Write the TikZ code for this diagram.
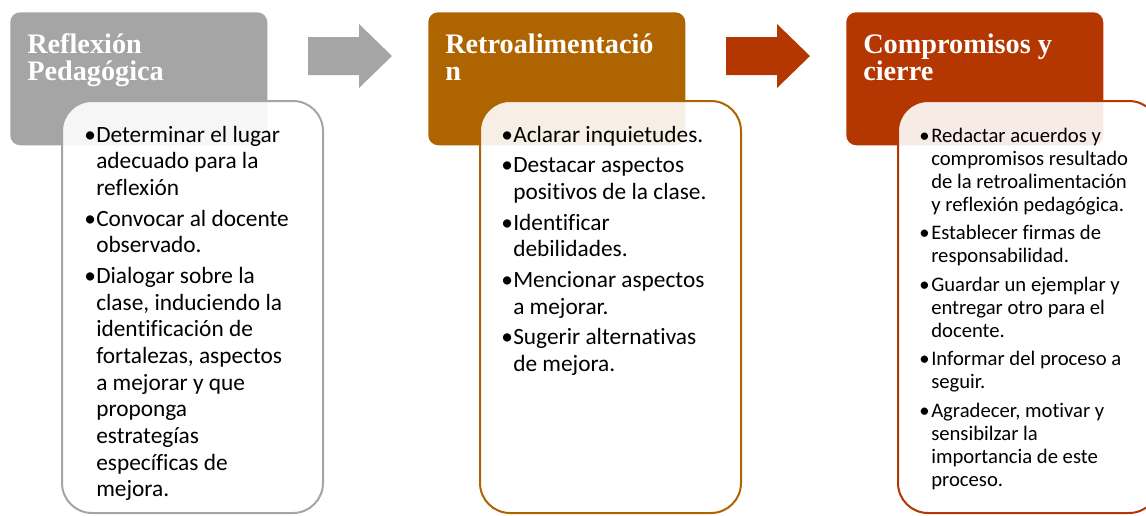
\documentclass[tikz,border=0pt]{standalone}
\usepackage{fontspec}
\setmainfont{Carlito}[Ligatures=CommonOff]
\newfontfamily\titlefont{Liberation Serif}
\usetikzlibrary{positioning}
\definecolor{flowgray}{RGB}{165,165,165}
\definecolor{flowbrown}{RGB}{174,100,0}
\definecolor{flowred}{RGB}{180,54,0}
\newcommand{\bul}{\makebox[9pt][l]{•}}
\newcommand{\ind}{\hspace*{9pt}}
\newcommand{\toplines}[1]{\parbox[t]{200pt}{\raggedright #1}}
\tikzset{
  headbox/.style={rectangle, rounded corners=7.5pt, minimum width=192.75pt,
    minimum height=99.75pt, anchor=north west, inner sep=0pt},
  headtext/.style={anchor=base west, inner sep=0pt, text=white,
    font=\titlefont\bfseries\fontsize{21.2}{20.3}\selectfont},
  bodybox/.style={rectangle, rounded corners=22.5pt, fill=white, fill opacity=0.9,
    line width=1.5pt, minimum width=195.75pt, minimum height=309pt,
    anchor=north west, inner sep=0pt},
  bodytext/.style={anchor=base west, inner sep=0pt, text=black,
    font=\fontsize{17.5}{20}\selectfont},
  smalltext/.style={bodytext, font=\fontsize{15.5}{17.3}\selectfont}
}

\begin{document}
\begin{tikzpicture}[x=0.75pt, y=-0.75pt]
  \clip (0,0) rectangle (1146,515);

  % Reflexion pedagogica
  \begin{scope}
    \node[headbox, fill=flowgray] (hd1) at (10,12) {};
    \node[headtext] (ht1) at (27,53) {\toplines{Reflexión\\Pedagógica}};
    \node[bodybox, draw=flowgray] (bx1) at (61,100) {};
    \node[bodytext] (tx1) at (84,142) {\toplines{\bul Determinar el lugar\\ \ind adecuado para la\\ \ind reflexión\\[3pt]
      \bul Convocar al docente\\ \ind observado.\\[3pt]
      \bul Dialogar sobre la\\ \ind clase, induciendo la\\ \ind identificación de\\ \ind fortalezas, aspectos\\
      \ind a mejorar y que\\ \ind proponga\\ \ind estrategías\\ \ind específicas de\\ \ind mejora.}};
  \end{scope}

  % Retroalimentacion
  \begin{scope}[shift={(418,0)}]
    \node[headbox, fill=flowbrown] (hd2) at (10,12) {};
    \node[headtext] (ht2) at (27,53) {\toplines{Retroalimentació\\n}};
    \node[bodybox, draw=flowbrown] (bx2) at (61,100) {};
    \node[bodytext] (tx2) at (83,142) {\toplines{\bul Aclarar inquietudes.\\[3pt]
      \bul Destacar aspectos\\ \ind positivos de la clase.\\[3pt]
      \bul Identificar\\ \ind debilidades.\\[3pt]
      \bul Mencionar aspectos\\ \ind a mejorar.\\[3pt]
      \bul Sugerir alternativas\\ \ind de mejora.}};
  \end{scope}

  % Compromisos y cierre
  \begin{scope}[shift={(836,0)}]
    \node[headbox, fill=flowred] (hd3) at (10,12) {};
    \node[headtext] (ht3) at (27,53) {\toplines{Compromisos y\\cierre}};
    \node[bodybox, draw=flowred] (bx3) at (61,100) {};
    \node[smalltext] (tx3) at (83,142) {\toplines{\bul Redactar acuerdos y\\ \ind compromisos resultado\\ \ind de la retroalimentación\\ \ind y reflexión pedagógica.\\[4pt]
      \bul Establecer firmas de\\ \ind responsabilidad.\\[4pt]
      \bul Guardar un ejemplar y\\ \ind entregar otro para el\\ \ind docente.\\[4pt]
      \bul Informar del proceso a\\ \ind seguir.\\[4pt]
      \bul Agradecer, motivar y\\ \ind sensibilzar la\\ \ind importancia de este\\ \ind proceso.}};
  \end{scope}

  % block arrows between the steps
  \foreach \sx/\col in {0/flowgray, 418/flowred}
    \fill[\col] (308+\sx,37) -- (359+\sx,37) -- (359+\sx,24) -- (392+\sx,56)
      -- (359+\sx,88) -- (359+\sx,75) -- (308+\sx,75) -- cycle;
\end{tikzpicture}
\end{document}
